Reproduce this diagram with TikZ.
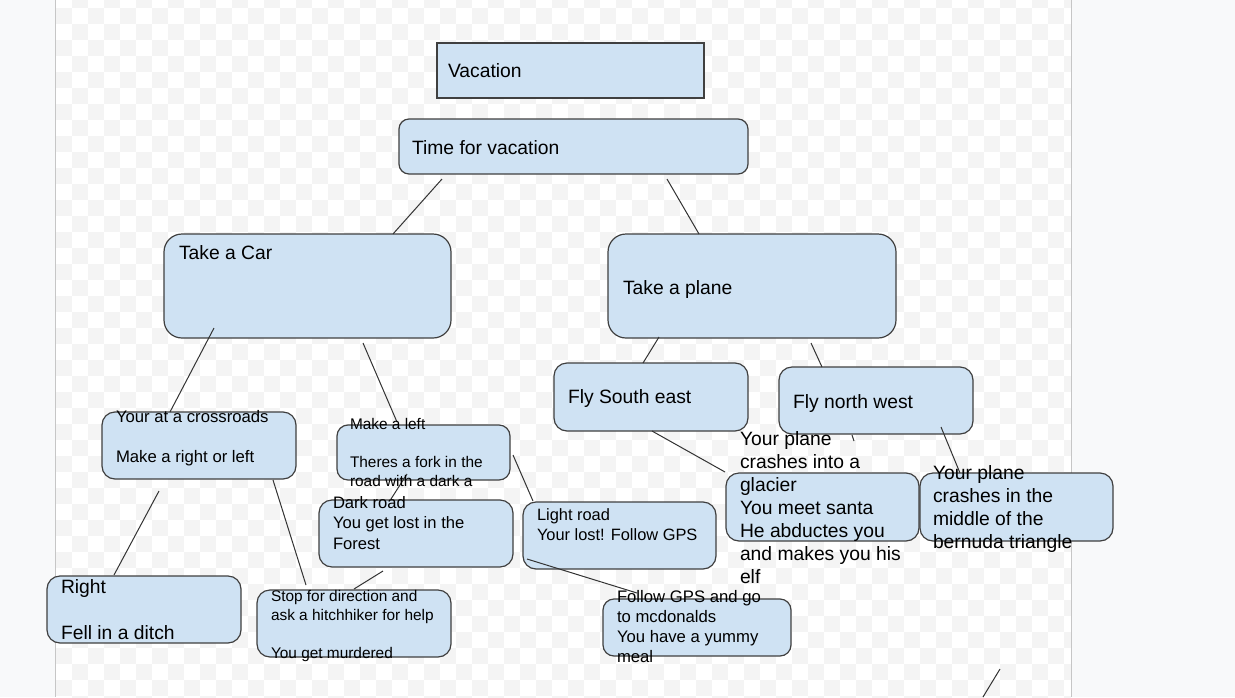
\documentclass[tikz,border=0pt]{standalone}
\usepackage{fontspec}
\setmainfont{Liberation Sans}
\definecolor{boxblue}{HTML}{CFE2F3}
\definecolor{boxline}{HTML}{404040}
\definecolor{linkcol}{HTML}{333333}
\definecolor{chk}{HTML}{F4F4F4}
\definecolor{outerbg}{HTML}{F8F9FA}
\definecolor{pageedge}{HTML}{C6C6C6}
\newcommand\lnbr{\egroup\hbox\bgroup}
\newcommand\ml[2]{\vtop{\baselineskip=#1pt\relax\hbox\bgroup#2\egroup}}
\tikzset{
  box/.style={draw=boxline, fill=boxblue, line width=1.2pt, inner sep=0pt, outer sep=0pt, anchor=north west},
  lbl/.style={inner sep=0pt, outer sep=0pt, anchor=base west, text=black},
  link/.style={draw=linkcol, line width=1pt},
  big/.style={font=\fontsize{19.3}{23}\selectfont},
}
\begin{document}
\begin{tikzpicture}[x=1pt,y=-1pt]
\useasboundingbox (0,0) rectangle (1235,697);
% page background
\fill[outerbg] (0,0) rectangle (1235,697);
\begin{scope}
  \clip (56,0) rectangle (1071,697);
  \fill[white] (56,0) rectangle (1071,697);
  \foreach \y in {8,40,...,680} \foreach \x in {56,88,...,1048} \fill[chk] (\x,\y) rectangle ++(16,16);
  \foreach \y in {-8,24,...,696} \foreach \x in {72,104,...,1064} \fill[chk] (\x,\y) rectangle ++(16,16);
\end{scope}
\draw[pageedge, line width=1.2pt] (55.5,0) -- (55.5,697);
\draw[pageedge, line width=1.2pt] (1071.5,0) -- (1071.5,697);

% boxes
\node[box, minimum width=267pt, minimum height=55pt] (vac) at (437,43) {};
\node[box, rounded corners=10pt, minimum width=349pt, minimum height=55pt] (time) at (399,119) {};
\node[box, rounded corners=18pt, minimum width=287pt, minimum height=104pt] (car) at (164,234) {};
\node[box, rounded corners=18pt, minimum width=288pt, minimum height=104pt] (plane) at (608,234) {};
\node[box, rounded corners=13pt, minimum width=194pt, minimum height=67pt] (cross) at (102,412) {};
\node[box, rounded corners=11pt, minimum width=173pt, minimum height=55pt] (left) at (337,425) {};
\node[box, rounded corners=13pt, minimum width=194pt, minimum height=67pt] (dark) at (319,500) {};
\node[box, rounded corners=13pt, minimum width=193pt, minimum height=67pt] (light) at (523,502) {};
\node[box, rounded corners=13pt, minimum width=194pt, minimum height=67pt] (right) at (47,576) {};
\node[box, rounded corners=13pt, minimum width=194pt, minimum height=67pt] (stop) at (257,590) {};
\node[box, rounded corners=13pt, minimum width=194pt, minimum height=68pt] (se) at (554,363) {};
\node[box, rounded corners=13pt, minimum width=194pt, minimum height=67pt] (nw) at (779,367) {};
\node[box, rounded corners=13pt, minimum width=193pt, minimum height=68pt] (glac) at (726,473) {};
\node[box, rounded corners=13pt, minimum width=193pt, minimum height=68pt] (berm) at (920,473) {};
\node[box, rounded corners=11pt, minimum width=188pt, minimum height=57pt] (mcd) at (603,599) {};

% connectors
\coordinate (nwend) at (854,441);
\coordinate (strayA) at (1000,669);
\coordinate (strayB) at (983,697);
\draw[link] ([shift={(43,5)}]time.south west) -- ([shift={(229,0)}]car.north west);
\draw[link] ([shift={(268,5)}]time.south west) -- ([shift={(91,0)}]plane.north west);
\draw[link] ([shift={(50,-10)}]car.south west) -- ([shift={(68,0)}]cross.north west);
\draw[link] ([shift={(199,5)}]car.south west) -- ([shift={(60,-3)}]left.north west);
\draw[link] ([shift={(57,12)}]cross.south west) -- ([shift={(67,-1)}]right.north west);
\draw[link] ([shift={(171,1)}]cross.south west) -- ([shift={(49,-5)}]stop.north west);
\draw[link] ([shift={(70,-6)}]left.south west) -- ([shift={(72,-1)}]dark.north west);
\draw[link] ([shift={(3,-25)}]left.south east) -- ([shift={(10,-1)}]light.north west);
\draw[link] ([shift={(64,4)}]dark.south west) -- ([shift={(97,-1)}]stop.north west);
\draw[link] ([shift={(4,-10)}]light.south west) -- ([shift={(34,-6)}]mcd.north west);
\draw[link] ([shift={(51,-1)}]plane.south west) -- ([shift={(89,0)}]se.north west);
\draw[link] ([shift={(203,5)}]plane.south west) -- ([shift={(43,0)}]nw.north west);
\draw[link] ([shift={(98,0)}]se.south west) -- ([shift={(-1,-1)}]glac.north west);
\draw[link] ([shift={(73,1)}]nw.south west) -- (nwend);
\draw[link] ([shift={(162,-7)}]nw.south west) -- ([shift={(40,0)}]berm.north west);
\draw[link] (strayA) -- (strayB);

% texts
\node[lbl, big] (vac-t) at (448,77) {Vacation};
\node[lbl, big] (time-t) at (412,154) {Time for vacation};
\node[lbl, big] (car-t) at (179,259) {Take a Car};
\node[lbl, big] (plane-t) at (623,294) {Take a plane};
\node[lbl, font=\fontsize{16.7}{20}\selectfont] (cross-t) at (116,422)
  {\ml{20}{Your at a crossroads\lnbr\lnbr Make a right or left}};
\node[lbl, font=\fontsize{15.4}{19}\selectfont] (left-t) at (350,429)
  {\ml{19}{Make a left\lnbr\lnbr Theres a fork in the\lnbr road with a dark a}};
\node[lbl, font=\fontsize{16.6}{20.5}\selectfont] (dark-t) at (333,508)
  {\ml{20.5}{Dark road\lnbr You get lost in the\lnbr Forest}};
\node[lbl, font=\fontsize{16.4}{20}\selectfont] (light-t) at (537,520)
  {\ml{20}{Light road\lnbr Your lost! Follow GPS}};
\node[lbl, big] (right-t) at (61,593)
  {\ml{23}{Right\lnbr\lnbr Fell in a ditch}};
\node[lbl, font=\fontsize{15.4}{19}\selectfont] (stop-t) at (271,601)
  {\ml{19}{Stop for direction and\lnbr ask a hitchhiker for help\lnbr\lnbr You get murdered}};
\node[lbl, big] (se-t) at (568,403) {Fly South east};
\node[lbl, big] (nw-t) at (793,408) {Fly north west};
\node[lbl, big] (glac-t) at (740,445)
  {\ml{23.1}{Your plane\lnbr crashes into a\lnbr glacier\lnbr You meet santa\lnbr He abductes you\lnbr and makes you his\lnbr elf}};
\node[lbl, big] (berm-t) at (933,479)
  {\ml{23}{Your plane\lnbr crashes in the\lnbr middle of the\lnbr bernuda triangle}};
\node[lbl, font=\fontsize{16.7}{20.3}\selectfont] (mcd-t) at (617,602)
  {\ml{20.3}{Follow GPS and go\lnbr to mcdonalds\lnbr You have a yummy\lnbr meal}};
\end{tikzpicture}
\end{document}
